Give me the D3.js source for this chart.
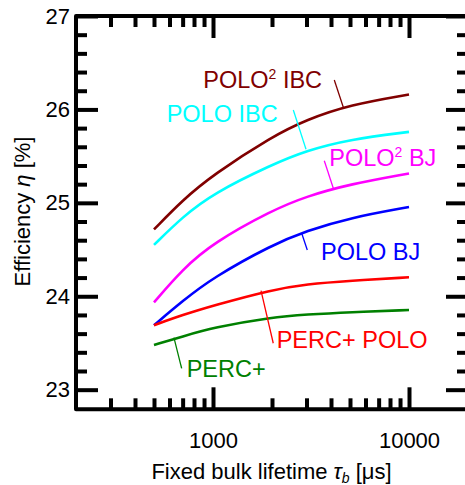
<!DOCTYPE html>
<html>
<head>
<meta charset="utf-8">
<style>
body { margin: 0; background: #fff; }
svg text { font-family: "Liberation Sans", Arial, sans-serif; }
</style>
</head>
<body>
<svg width="465" height="485"></svg>
<script src="https://d3js.org/d3.v7.min.js"></script>
<script>
// bulk lifetime (us) sampled along every curve
var lifetimes = [500, 700, 1000, 2000, 3000, 5000, 10000];
var seriesNames = ["POLO2 IBC", "POLO IBC", "POLO2 BJ", "POLO BJ", "PERC+ POLO", "PERC+"];
var seriesColors = ["#800000", "#00ffff", "#ff00ff", "#0000ff", "#ff0000", "#008000"];
var polo2IBC  = [24.715, 25.03, 25.30, 25.71, 25.89, 26.05, 26.16];
var poloIBC   = [24.55, 24.85, 25.10, 25.41, 25.56, 25.68, 25.76];
var polo2BJ   = [23.935, 24.29, 24.57, 24.92, 25.07, 25.20, 25.315];
var poloBJ    = [23.69, 23.95, 24.20, 24.55, 24.70, 24.84, 24.955];
var percPolo  = [23.69, 23.80, 23.90, 24.07, 24.13, 24.167, 24.203];
var percPlus  = [23.478, 23.57, 23.665, 23.775, 23.805, 23.83, 23.853];
var seriesValues = [polo2IBC, poloIBC, polo2BJ, poloBJ, percPolo, percPlus];

var xMajor = [1000, 10000];
var xMinor = [300, 400, 500, 600, 700, 800, 900, 2000, 3000, 4000, 5000, 6000, 7000, 8000, 9000];
var yMajor = [23, 24, 25, 26, 27];
var yMinor = [23.2, 23.4, 23.6, 23.8, 24.2, 24.4, 24.6, 24.8, 25.2, 25.4, 25.6, 25.8, 26.2, 26.4, 26.6, 26.8];

// label anchor (lifetime, efficiency) and leader line ends
var labelMain = ["POLO", "POLO IBC", "POLO", "POLO BJ", "PERC+ POLO", "PERC+"];
var labelSup  = ["2", "", "2", "", "", ""];
var labelRest = [" IBC", "", " BJ", "", "", ""];
var labelAt   = [[892, 26.226], [580, 25.869], [3920, 25.398], [3556, 24.388], [2113, 23.443], [734, 23.139]];
var leaderFrom = [[4157, 26.315], [2569, 25.994], [3697, 25.451], [2835, 24.674], [1758, 24.060], [632, 23.557]];
var leaderTo   = [[4622, 26.023], [2982, 25.573], [4110, 25.156], [3028, 24.495], [2030, 23.497], [692, 23.229]];

var svg = d3.select("svg");
var x = d3.scaleLog().domain([200, 20000]).range([76, 468]);
var y = d3.scaleLinear().domain([22.79, 27]).range([409.3, 16]);

var line = d3.line()
    .x(function(d) { return x(d[0]); })
    .y(function(d) { return y(d[1]); })
    .curve(d3.curveBasis);

seriesValues.forEach(function(vals, i) {
  svg.append("path")
      .datum(lifetimes.map(function(t, j) { return [t, vals[j]]; }))
      .attr("fill", "none")
      .attr("stroke", seriesColors[i])
      .attr("stroke-width", 2.6)
      .attr("d", line);
});

// leader lines + labels
seriesNames.forEach(function(n, i) {
  svg.append("line")
      .attr("x1", x(leaderFrom[i][0])).attr("y1", y(leaderFrom[i][1]))
      .attr("x2", x(leaderTo[i][0])).attr("y2", y(leaderTo[i][1]))
      .attr("stroke", seriesColors[i])
      .attr("stroke-width", 1.3);
  var t = svg.append("text")
      .attr("x", x(labelAt[i][0]))
      .attr("y", y(labelAt[i][1]))
      .attr("fill", seriesColors[i])
      .attr("font-size", 23.5);
  t.append("tspan").text(labelMain[i]);
  if (labelSup[i]) {
    t.append("tspan").attr("font-size", 14).attr("dy", -9).text(labelSup[i]);
    t.append("tspan").attr("dy", 9).text(labelRest[i]);
  }
});

// axes: ticks pointing inward on all four sides
function drawTicks(axis, tr) {
  var g = svg.append("g").attr("transform", tr).call(axis);
  g.select(".domain").remove();
  g.selectAll(".tick line").attr("stroke", "#000").attr("stroke-width", 4);
  return g;
}
var fmt = d3.format("d");
var bottom = drawTicks(d3.axisBottom(x).tickValues(xMajor).tickSize(-22).tickPadding(23).tickFormat(fmt), "translate(0,409.3)");
bottom.selectAll("text").attr("font-size", 22).attr("fill", "#000").attr("font-family", "Liberation Sans, Arial, sans-serif");
drawTicks(d3.axisBottom(x).tickValues(xMinor).tickSize(-11).tickFormat(""), "translate(0,409.3)");
drawTicks(d3.axisTop(x).tickValues(xMajor).tickSize(-22).tickFormat(""), "translate(0,16)");
drawTicks(d3.axisTop(x).tickValues(xMinor).tickSize(-11).tickFormat(""), "translate(0,16)");

var left = drawTicks(d3.axisLeft(y).tickValues(yMajor).tickSize(-22).tickPadding(6).tickFormat(fmt), "translate(76,0)");
left.selectAll("text").attr("font-size", 22).attr("fill", "#000").attr("font-family", "Liberation Sans, Arial, sans-serif");
drawTicks(d3.axisLeft(y).tickValues(yMinor).tickSize(-11).tickFormat(""), "translate(76,0)");
drawTicks(d3.axisRight(y).tickValues(yMajor).tickSize(-22).tickFormat(""), "translate(468,0)");
drawTicks(d3.axisRight(y).tickValues(yMinor).tickSize(-11).tickFormat(""), "translate(468,0)");

// frame
svg.append("rect")
    .attr("x", 76).attr("y", 16)
    .attr("width", 392).attr("height", 393.3)
    .attr("fill", "none")
    .attr("stroke", "#000")
    .attr("stroke-width", 4)
    .attr("stroke-linejoin", "round");

// axis titles
var xt = svg.append("text")
    .attr("x", 271.5).attr("y", 479)
    .attr("text-anchor", "middle")
    .attr("font-size", 22);
xt.append("tspan").text("Fixed bulk lifetime ");
xt.append("tspan").attr("font-style", "italic").text("τ");
xt.append("tspan").attr("font-style", "italic").attr("font-size", 14).attr("dy", 4).text("b");
xt.append("tspan").attr("dy", -4).text(" [μs]");

var yt = svg.append("text")
    .attr("transform", "translate(30,211.5) rotate(-90)")
    .attr("text-anchor", "middle")
    .attr("font-size", 22);
yt.append("tspan").text("Efficiency ");
yt.append("tspan").attr("font-style", "italic").text("η");
yt.append("tspan").text(" [%]");
</script>
</body>
</html>
